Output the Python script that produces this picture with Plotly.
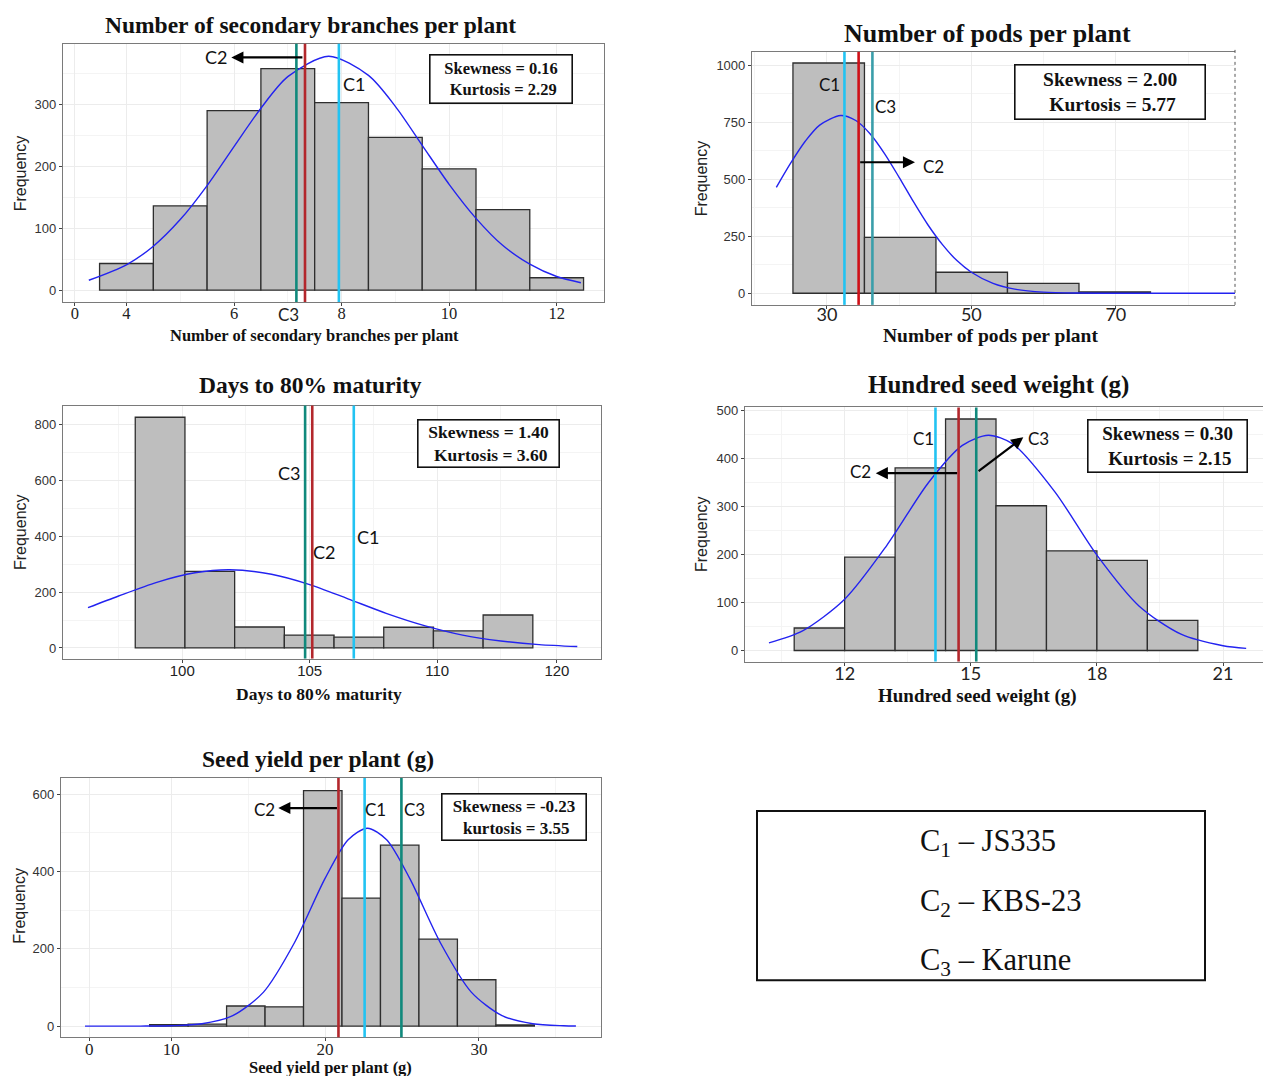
import plotly.graph_objects as go

W, H = 1264, 1076
def px(x): return x / W
def py(y): return 1 - y / H

# ---------------- data ----------------
# Panel 1: Number of secondary branches per plant
p1_centers = [4, 5, 6, 7, 8, 9, 10, 11, 12]
p1_counts = [43, 136, 290, 358, 303, 247, 196, 130, 20]
p1_width = 1.0
p1_curve_x = [3.3, 4, 4.5, 5, 5.5, 6, 6.5, 7, 7.76, 8.5, 9, 9.5, 10, 10.5, 11, 11.5, 12, 12.45]
p1_curve_y = [16, 41, 71, 114, 169, 232, 294, 345, 378, 347, 297, 234, 171, 116, 72, 42, 22, 12]
p1_lines = {"C1": 7.95, "C2": 7.32, "C3": 7.16}
p1_xticks = [3.04, 4, 6, 8, 10, 12]
p1_xticktext = ["0", "4", "6", "8", "10", "12"]
p1_yticks = [0, 100, 200, 300]

# Panel 2: Number of pods per plant
p2_centers = [30.25, 40.15, 50.05, 59.95, 69.85]
p2_counts = [1009, 245, 92, 43, 6]
p2_width = 9.9
p2_curve_x = [23, 25, 27, 29, 31.9, 34, 36, 38, 40, 42, 44, 46, 48, 50, 53, 56, 60, 65, 70, 78, 86.5]
p2_curve_y = [464, 571, 666, 737, 779, 757, 698, 611, 508, 400, 299, 213, 143, 92, 43, 18, 5, 1, 0, 0, 0]
p2_lines = {"C1": 32.43, "C2": 34.39, "C3": 36.3}
p2_xticks = [30, 50, 70]
p2_yticks = [0, 250, 500, 750, 1000]

# Panel 3: Days to 80% maturity
p3_centers = [99.13, 101.08, 103.03, 104.98, 106.93, 108.88, 110.83, 112.78]
p3_counts = [826, 274, 75, 46, 39, 74, 61, 118]
p3_width = 1.95
p3_curve_x = [96.3, 97.5, 99, 100.5, 101.86, 103.5, 105, 106.5, 108, 109.5, 111, 112.5, 114, 115.5]
p3_curve_y = [144, 186, 235, 269, 280, 264, 227, 176, 124, 80, 46, 25, 12, 5]
p3_lines = {"C1": 106.73, "C2": 105.1, "C3": 104.82}
p3_xticks = [100, 105, 110, 114.7]
p3_xticktext = ["100", "105", "110", "120"]
p3_yticks = [0, 200, 400, 600, 800]

# Panel 4: Hundred seed weight (g)
p4_centers = [11.4, 12.6, 13.8, 15.0, 16.2, 17.4, 18.6, 19.8]
p4_counts = [47, 195, 381, 483, 302, 208, 188, 63]
p4_width = 1.2
p4_curve_x = [10.2, 11, 12, 13, 14, 14.8, 15.42, 16, 17, 18, 19, 20, 21, 21.55]
p4_curve_y = [16, 41, 107, 219, 351, 428, 449, 431, 331, 199, 93, 34, 10, 4.5]
p4_lines = {"C1": 14.16, "C2": 14.71, "C3": 15.13}
p4_xticks = [12, 15, 18, 21]
p4_yticks = [0, 100, 200, 300, 400, 500]

# Panel 5: Seed yield per plant (g)
p5_centers = [9.85, 12.35, 14.85, 17.35, 19.85, 22.35, 24.85, 27.35, 29.85, 32.35]
p5_counts = [4, 5, 52, 50, 609, 331, 468, 225, 120, 3]
p5_width = 2.5
p5_curve_x = [4.4, 6, 8, 10, 12, 14, 16, 18, 20, 21.5, 22.75, 24, 25.5, 27.5, 29.5, 31.5, 33.5, 35.5, 36.3]
p5_curve_y = [0, 0, 0.1, 1, 6, 27, 88, 215, 382, 482, 512, 482, 382, 215, 88, 27, 6, 1, 0.4]
p5_lines = {"C1": 22.57, "C2": 20.87, "C3": 24.96}
p5_xticks = [4.67, 10, 20, 30]
p5_xticktext = ["0", "10", "20", "30"]
p5_yticks = [0, 200, 400, 600]

legend_lines = ["C<sub>1</sub> – JS335", "C<sub>2</sub> – KBS-23", "C<sub>3</sub> – Karune"]

# ---------------- styling ----------------
SERIF = "Liberation Serif"
SANS = "Liberation Sans"
CAL = "Lato"
BAR_FILL = "#bebebe"
BAR_LINE = "#2e2e2e"
CURVE = "#2323f0"
COL = {"C1": "#22c3f2", "C2": "#b3272c", "C3": "#10897c"}
COL_P2 = {"C1": "#22c3f2", "C2": "#cf1018", "C3": "#3a9eaa"}

panels = [
    dict(n=1, box=(63, 604, 40, 299), xr=[2.82, 12.88], yr=[-19, 398]),
    dict(n=2, box=(752, 1235, 48, 302), xr=[19.63, 86.5], yr=[-51, 1058]),
    dict(n=3, box=(63, 601, 403, 657), xr=[95.32, 116.43], yr=[-38, 868]),
    dict(n=4, box=(745, 1263, 405, 660), xr=[9.63, 21.95], yr=[-23, 507]),
    dict(n=5, box=(61, 601, 777, 1037), xr=[2.84, 37.93], yr=[-28.5, 641.5]),
]

data = {
    1: (p1_centers, p1_counts, p1_width, p1_curve_x, p1_curve_y, p1_lines),
    2: (p2_centers, p2_counts, p2_width, p2_curve_x, p2_curve_y, p2_lines),
    3: (p3_centers, p3_counts, p3_width, p3_curve_x, p3_curve_y, p3_lines),
    4: (p4_centers, p4_counts, p4_width, p4_curve_x, p4_curve_y, p4_lines),
    5: (p5_centers, p5_counts, p5_width, p5_curve_x, p5_curve_y, p5_lines),
}

fig = go.Figure()
layout = dict(width=W, height=H, margin=dict(l=0, r=0, t=0, b=0),
              paper_bgcolor="white", plot_bgcolor="white", showlegend=False)
shapes = []
annotations = []

xtick_cfg = {
    1: dict(vals=p1_xticks, text=p1_xticktext, font=dict(family=SERIF, size=16.5, color="#222"),
            minor=[5, 7, 9, 11], standoff=-7),
    2: dict(vals=p2_xticks, text=[str(v) for v in p2_xticks], font=dict(family=CAL, size=18, color="#222"),
            minor=[20, 40, 60, 80], standoff=-10),
    3: dict(vals=p3_xticks, text=p3_xticktext, font=dict(family=SANS, size=15, color="#222"),
            minor=[97.5, 102.5, 107.5, 112.5], standoff=-5),
    4: dict(vals=p4_xticks, text=[str(v) for v in p4_xticks], font=dict(family=CAL, size=18, color="#222"),
            minor=[10.5, 13.5, 16.5, 19.5], standoff=-7),
    5: dict(vals=p5_xticks, text=p5_xticktext, font=dict(family=SERIF, size=17, color="#222"),
            minor=[15, 25, 35], standoff=-7),
}
ytick_cfg = {1: p1_yticks, 2: p2_yticks, 3: p3_yticks, 4: p4_yticks, 5: p5_yticks}

for p in panels:
    n = p["n"]
    L, R, T, B = p["box"]
    xa = "x" if n == 1 else f"x{n}"
    ya = "y" if n == 1 else f"y{n}"
    xkey = "xaxis" if n == 1 else f"xaxis{n}"
    ykey = "yaxis" if n == 1 else f"yaxis{n}"
    centers, counts, width, cx, cy, lines = data[n]

    fig.add_trace(go.Bar(x=centers, y=counts, width=width, xaxis=xa, yaxis=ya,
                         marker=dict(color=BAR_FILL, line=dict(color=BAR_LINE, width=1.3)),
                         hoverinfo="skip"))
    fig.add_trace(go.Scatter(x=cx, y=cy, mode="lines", xaxis=xa, yaxis=ya,
                             line=dict(color=CURVE, width=1.4, shape="spline", smoothing=0.8),
                             hoverinfo="skip"))

    yt = ytick_cfg[n]
    ymin = [(yt[i] + yt[i + 1]) / 2 for i in range(len(yt) - 1)] + [yt[-1] + (yt[1] - yt[0]) / 2]
    xc = xtick_cfg[n]
    layout[xkey] = dict(domain=[px(L), px(R)], range=p["xr"], anchor=ya,
                        showline=True, linecolor="#7a7a7a", linewidth=1.2, mirror=True,
                        showgrid=True, gridcolor="#ececec", gridwidth=1, zeroline=False,
                        tickmode="array", tickvals=xc["vals"], ticktext=xc["text"],
                        ticks="outside", ticklen=3, tickcolor="#444", tickfont=xc["font"],
                        ticklabelstandoff=xc["standoff"],
                        minor=dict(tickmode="array", tickvals=xc["minor"], showgrid=True,
                                   gridcolor="#f4f4f4", gridwidth=0.6, ticks=""),
                        fixedrange=True)
    layout[ykey] = dict(domain=[py(B), py(T)], range=p["yr"], anchor=xa,
                        showline=True, linecolor="#7a7a7a", linewidth=1.2,
                        mirror=(n not in (2, 4)),
                        showgrid=True, gridcolor="#ececec", gridwidth=1, zeroline=False,
                        tickmode="array", tickvals=yt, ticks="outside", ticklen=3, tickcolor="#444",
                        tickfont=dict(family=SANS, size=13, color="#333"),
                        minor=dict(tickmode="array", tickvals=ymin, showgrid=True,
                                   gridcolor="#f4f4f4", gridwidth=0.6, ticks=""),
                        fixedrange=True)

    colset = COL_P2 if n == 2 else COL
    for k in ("C3", "C2", "C1"):
        shapes.append(dict(type="line", xref=xa, yref=f"{ya} domain", x0=lines[k], x1=lines[k],
                           y0=0, y1=1, line=dict(color=colset[k], width=2.6)))

# panel 2 right border dashed
shapes.append(dict(type="line", xref="paper", yref="paper", x0=px(1235), x1=px(1235),
                   y0=py(302), y1=py(46), line=dict(color="#555", width=1, dash="dot")))

# ---------------- stats boxes ----------------
def statbox(xa, ya, x, y, text, w, h, size):
    annotations.append(dict(xref=xa, yref=ya, x=x, y=y, text=text, showarrow=False,
                            font=dict(family=SERIF, size=size, color="#111"),
                            bordercolor="#111", borderwidth=1.6, borderpad=0, bgcolor="white",
                            width=w, height=h, align="center", xanchor="center", yanchor="middle"))

statbox("x", "y", 10.97, 341, "<b>Skewness = 0.16</b><br><b> Kurtosis = 2.29</b>", 141, 47, 16.5)
statbox("x2", "y2", 69.2, 882, "<b>Skewness = 2.00</b><br><b> Kurtosis = 5.77</b>", 189, 53, 19.5)
statbox("x3", "y3", 112.0, 731, "<b>Skewness = 1.40</b><br><b> Kurtosis = 3.60</b>", 140, 46, 17.5)
statbox("x4", "y4", 19.68, 427, "<b>Skewness = 0.30</b><br><b> Kurtosis = 2.15</b>", 158, 51, 19)
statbox("x5", "y5", 32.25, 540, "<b>Skewness = -0.23</b><br><b> kurtosis = 3.55</b>", 143, 45, 17)

# ---------------- C labels and arrows ----------------
def clabel(xa, ya, x, y, t, size=18):
    annotations.append(dict(xref=xa, yref=ya, x=x, y=y, text=t, showarrow=False,
                            font=dict(family=CAL, size=size, color="#111"),
                            xanchor="center", yanchor="middle"))

def arrow(xa, ya, x0, y0, x1, y1):
    annotations.append(dict(xref=xa, yref=ya, axref=xa, ayref=ya, x=x1, y=y1, ax=x0, ay=y0,
                            text="", showarrow=True, arrowhead=2, arrowsize=1.1, arrowwidth=2.2,
                            arrowcolor="#000", standoff=0, startstandoff=0))

clabel("x", "y", 5.67, 376, "C2")
arrow("x", "y", 7.3, 376, 5.95, 376)
clabel("x", "y", 8.23, 333, "C1")
annotations.append(dict(xref="x", yref="paper", x=7.02, y=py(312), text="C3", showarrow=False,
                        font=dict(family=CAL, size=17, color="#222"), xanchor="center", yanchor="middle"))

clabel("x2", "y2", 30.4, 915, "C1", 17)
clabel("x2", "y2", 38.1, 820, "C3", 17)
clabel("x2", "y2", 44.8, 556, "C2", 17)
arrow("x2", "y2", 34.4, 574, 42.2, 574)

clabel("x3", "y3", 104.19, 627, "C3")
clabel("x3", "y3", 105.57, 342, "C2")
clabel("x3", "y3", 107.3, 396, "C1")

clabel("x4", "y4", 13.87, 443, "C1", 17)
clabel("x4", "y4", 12.37, 373, "C2", 17)
arrow("x4", "y4", 14.71, 370, 12.74, 370)
clabel("x4", "y4", 16.62, 443, "C3", 17)
arrow("x4", "y4", 15.15, 372, 16.25, 445)

clabel("x5", "y5", 16.09, 561, "C2", 17)
arrow("x5", "y5", 20.87, 564, 16.96, 564)
clabel("x5", "y5", 23.29, 561, "C1", 17)
clabel("x5", "y5", 25.82, 561, "C3", 17)

# ---------------- titles ----------------
def ptext(x, y, t, size, family=SERIF, bold=True, angle=0, color="#111"):
    annotations.append(dict(xref="paper", yref="paper", x=px(x), y=py(y),
                            text=f"<b>{t}</b>" if bold else t, showarrow=False, textangle=angle,
                            font=dict(family=family, size=size, color=color),
                            xanchor="center", yanchor="middle"))

ptext(310, 21, "Number of secondary branches per plant", 23.5)
ptext(988, 30, "Number of pods per plant", 26)
ptext(310, 382, "Days to 80% maturity", 23.5)
ptext(998, 382, "Hundred seed weight (g)", 25)
ptext(318, 758, "Seed yield per plant (g)", 23.5)

ptext(314, 333, "Number of secondary branches per plant", 16.5)
ptext(990, 333, "Number of pods per plant", 19.5)
ptext(319, 693, "Days to 80% maturity", 17.5)
ptext(977, 695, "Hundred seed weight (g)", 19)
ptext(330, 1067, "Seed yield per plant (g)", 16.5)

for (x, y) in [(20, 170), (701, 175), (20, 530), (701, 532), (20, 905)]:
    ptext(x, y, "Frequency", 16, family=SANS, bold=False, angle=-90, color="#222")

# ---------------- legend box ----------------
shapes.append(dict(type="rect", xref="paper", yref="paper", x0=px(757), x1=px(1205),
                   y0=py(980), y1=py(810), line=dict(color="#111", width=2), fillcolor="white",
                   layer="below"))
for i, t in enumerate(legend_lines):
    annotations.append(dict(xref="paper", yref="paper", x=px(918), y=py(842 + 60 * i), text=t,
                            showarrow=False, font=dict(family=SERIF, size=30.5, color="#111"),
                            xanchor="left", yanchor="middle"))

layout["shapes"] = shapes
layout["annotations"] = annotations
fig.update_layout(**layout)
fig.write_html("out.html", config={"displayModeBar": False},
               post_script="document.body.style.margin='0px';document.body.style.padding='0px';")
